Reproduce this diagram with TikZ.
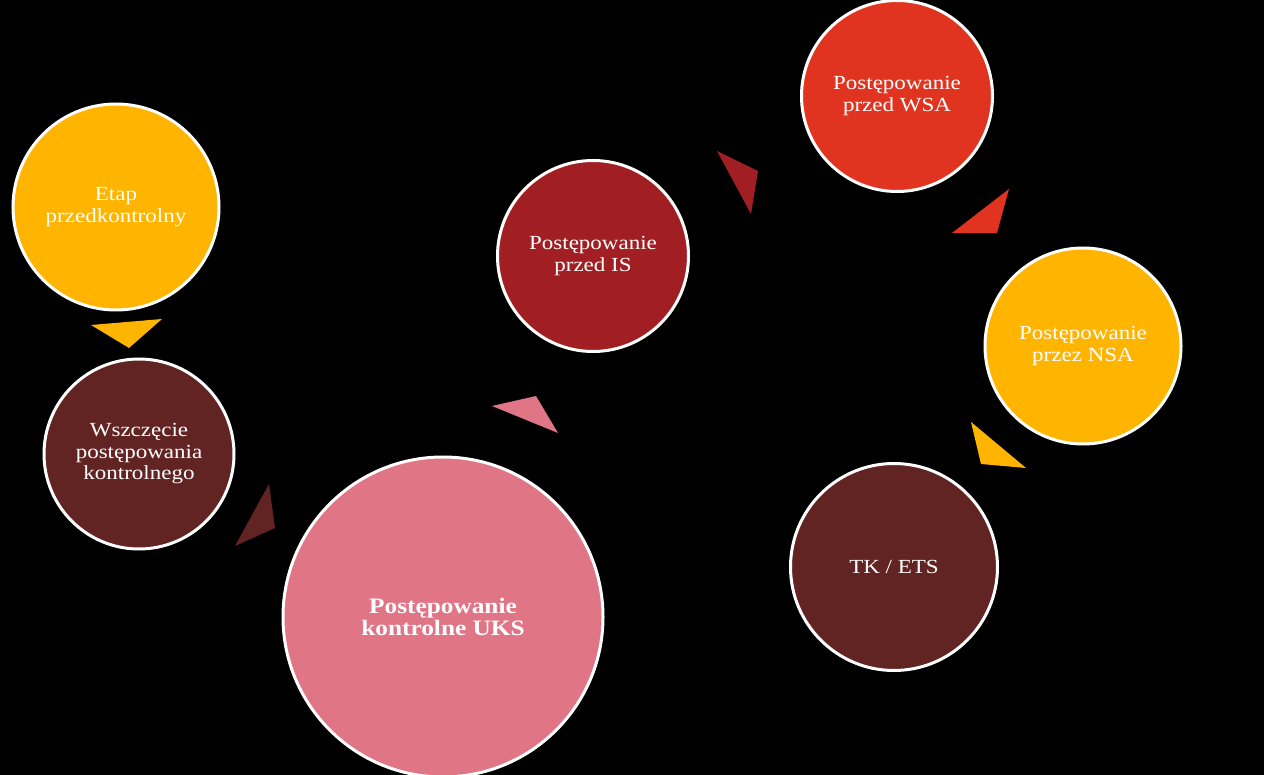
\documentclass[tikz,border=0pt]{standalone}
\usepackage{fontspec}
\setmainfont{Liberation Serif}[FakeStretch=1.15]
\usetikzlibrary{positioning}

\definecolor{amber}{HTML}{FFB400}
\definecolor{maroon}{HTML}{622423}
\definecolor{rosy}{HTML}{E07586}
\definecolor{crimson}{HTML}{A11F22}
\definecolor{scarlet}{HTML}{E03421}

\begin{document}
\begin{tikzpicture}[x=1pt,y=-1pt]
    \tikzset{stage/.style= {draw=white, circle
    , line width=3pt
    , inner sep=0pt
    , align=center
    , text=white
    , font=\fontsize{20}{21.5}\selectfont
      }
    }

\fill[black] (0,0) rectangle (1264,775);
\useasboundingbox (0,0) rectangle (1264,775);

\node [stage, fill=amber, minimum size=206pt] (pre) at (116,207) {Etap\\przedkontrolny};
\node [stage, fill=maroon, minimum size=190pt] (start) at (139,454) {Wszczęcie\\postępowania\\kontrolnego};
\node [stage, fill=rosy, minimum size=320pt, font=\fontsize{22}{22.5}\selectfont\bfseries] (uks) at (443,617) {Postępowanie\\kontrolne UKS};
\node [stage, fill=crimson, minimum size=191pt] (is) at (593,256) {Postępowanie\\przed IS};
\node [stage, fill=scarlet, minimum size=191pt] (wsa) at (897,96) {Postępowanie\\przed WSA};
\node [stage, fill=amber, minimum size=196pt] (nsa) at (1083,346) {Postępowanie\\przez NSA};
\node [stage, fill=maroon, minimum size=207pt] (tk) at (894,567) {TK / ETS};

% arrows between the stages
\fill[amber] (91,325) -- (162,319) -- (129,348) -- cycle;
\fill[maroon] (269,484) -- (275,528) -- (235,546) -- cycle;
\fill[rosy] (492,406) -- (536,396) -- (558,433) -- cycle;
\fill[crimson] (717,151) -- (758,171) -- (751,214) -- cycle;
\fill[scarlet] (1009,189) -- (997,233) -- (952,233) -- cycle;
\fill[amber] (971,422) -- (1026,468) -- (981,464) -- cycle;
\end{tikzpicture}
\end{document}
